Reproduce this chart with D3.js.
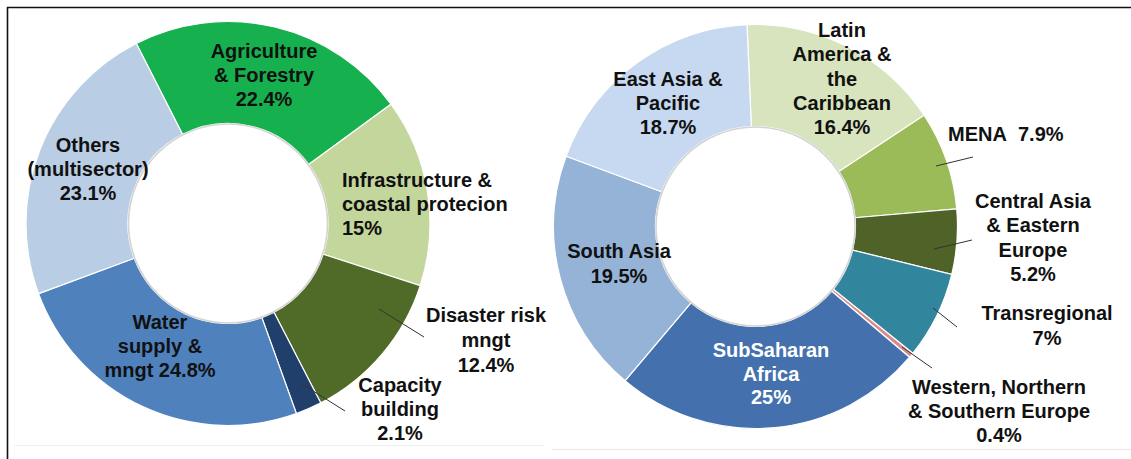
<!DOCTYPE html>
<html>
<head>
<meta charset="utf-8">
<script src="https://cdn.jsdelivr.net/npm/d3@7"></script>
<style>
  html, body { margin: 0; padding: 0; background: #fff; }
  svg { display: block; }
  text { font-family: "Liberation Sans", Arial, sans-serif; font-weight: bold; font-size: 20px; fill: #111; white-space: pre; }
</style>
</head>
<body>
<svg id="chart" width="1131" height="459"></svg>
<script>
// ---- Data: adaptation finance split by sector ----
const sectorNames  = ["Agriculture & Forestry", "Infrastructure & coastal protecion", "Disaster risk mngt",
                      "Capacity building", "Water supply & mngt", "Others (multisector)"];
const sectorShares = [22.4, 15, 12.4, 2.1, 24.8, 23.1];
const sectorLabels = [["Agriculture", "& Forestry", "{v}"],
                      ["Infrastructure &", "coastal protecion", "{v}"],
                      ["Disaster risk", "mngt", "{v}"],
                      ["Capacity", "building", "{v}"],
                      ["Water", "supply &", "mngt {v}"],
                      ["Others", "(multisector)", "{v}"]];
const sectorColors = ["#17b04e", "#c3d69b", "#506a27", "#203f6b", "#4f81bd", "#b9cde5"];

// ---- Data: adaptation finance split by region ----
const regionNames  = ["Latin America & the Caribbean", "MENA", "Central Asia & Eastern Europe", "Transregional",
                      "Western, Northern & Southern Europe", "SubSaharan Africa", "South Asia", "East Asia & Pacific"];
const regionShares = [16.4, 7.9, 5.2, 7, 0.4, 25, 19.5, 18.7];
const regionLabels = [["Latin", "America &", "the", "Caribbean", "{v}"],
                      ["MENA\u00a0\u00a0{v}"],
                      ["Central Asia", "& Eastern", "Europe", "{v}"],
                      ["Transregional", "{v}"],
                      ["Western, Northern", "& Southern Europe", "{v}"],
                      ["SubSaharan", "Africa", "{v}"],
                      ["South Asia", "{v}"],
                      ["East Asia &", "Pacific", "{v}"]];
const regionColors = ["#d7e4bd", "#9bbb59", "#4f6228", "#31859c", "#db8a8a", "#4471ae", "#95b3d7", "#c6d9f1"];

// ---- Layout ----
const svg = d3.select("#chart");
const deg = Math.PI / 180;

const panels = [
  {
    names: sectorNames, shares: sectorShares, lines: sectorLabels, colors: sectorColors,
    cx: 228, cy: 223.5, inner: 100, outer: 202, start: -27,
    labels: [
      { x: 264, y: 58,  step: 24, anchor: "middle" },
      { x: 342, y: 187, step: 24, anchor: "start" },
      { x: 486, y: 322, step: 25, anchor: "middle" },
      { x: 400, y: 392, step: 24, anchor: "middle" },
      { x: 160, y: 329, step: 24, anchor: "middle" },
      { x: 88,  y: 152, step: 24, anchor: "middle" }
    ],
    leaders: { 2: [[379, 309], [424, 337]], 3: [[302, 384], [345, 411]] }
  },
  {
    names: regionNames, shares: regionShares, lines: regionLabels, colors: regionColors,
    cx: 755.5, cy: 226.5, inner: 100, outer: 202, start: -2.4,
    labels: [
      { x: 842,  y: 37,  step: 24.3, anchor: "middle" },
      { x: 948,  y: 141, step: 24,   anchor: "start" },
      { x: 1033, y: 208, step: 24.3, anchor: "middle" },
      { x: 1047, y: 320, step: 25,   anchor: "middle" },
      { x: 999,  y: 394, step: 24,   anchor: "middle" },
      { x: 771,  y: 357, step: 23.5, anchor: "middle", fill: "#ffffff" },
      { x: 619,  y: 258, step: 25,   anchor: "middle" },
      { x: 668,  y: 86,  step: 24,   anchor: "middle" }
    ],
    leaders: { 1: [[936, 166], [973, 157]], 2: [[934, 249], [972, 240]],
               3: [[933, 308], [957, 327]], 4: [[902, 347], [932, 368]] }
  }
];

// Frame lines around the figure
svg.append("line").attr("x1", 7).attr("y1", 7.5).attr("x2", 1131).attr("y2", 7.5)
   .attr("stroke", "#111").attr("stroke-width", 1.6);
svg.append("line").attr("x1", 7.5).attr("y1", 7).attr("x2", 7.5).attr("y2", 459)
   .attr("stroke", "#111").attr("stroke-width", 1.6);
// faint edges of the two plot areas
svg.append("line").attr("x1", 14).attr("y1", 445.5).attr("x2", 545).attr("y2", 445.5)
   .attr("stroke", "#f0f0f0").attr("stroke-width", 1);
svg.append("line").attr("x1", 552).attr("y1", 449.5).attr("x2", 1131).attr("y2", 449.5)
   .attr("stroke", "#e8e8e8").attr("stroke-width", 1);

panels.forEach(p => {
  const pie = d3.pie().sort(null).value(d => d)
    .startAngle(p.start * deg).endAngle(p.start * deg + 2 * Math.PI);
  const arc = d3.arc().innerRadius(p.inner).outerRadius(p.outer);
  const arcs = pie(p.shares);

  const g = svg.append("g").attr("transform", `translate(${p.cx},${p.cy})`);

  g.selectAll("path.slice").data(arcs).enter().append("path")
    .attr("class", "slice")
    .attr("d", arc)
    .attr("fill", (d, i) => p.colors[i])
    .attr("stroke", "#ffffff")
    .attr("stroke-width", 1.2)
    .append("title").text((d, i) => `${p.names[i]}: ${p.shares[i]}%`);

  // soft rim round the hole
  g.append("circle").attr("r", p.inner - 0.5)
    .attr("fill", "#fff").attr("stroke", "#d4d4d4").attr("stroke-width", 1.6);

  // leader lines
  Object.entries(p.leaders).forEach(([i, pts]) => {
    svg.append("line")
      .attr("x1", pts[0][0]).attr("y1", pts[0][1])
      .attr("x2", pts[1][0]).attr("y2", pts[1][1])
      .attr("stroke", "#333").attr("stroke-width", 1);
  });

  // labels
  p.lines.forEach((lines, i) => {
    const L = p.labels[i];
    const t = svg.append("text")
      .attr("text-anchor", L.anchor)
      .style("fill", L.fill || "#111");
    lines.forEach((ln, k) => {
      t.append("tspan")
        .attr("x", L.x)
        .attr("y", L.y + k * L.step)
        .text(ln.replace("{v}", p.shares[i] + "%"));
    });
  });
});
</script>
</body>
</html>
